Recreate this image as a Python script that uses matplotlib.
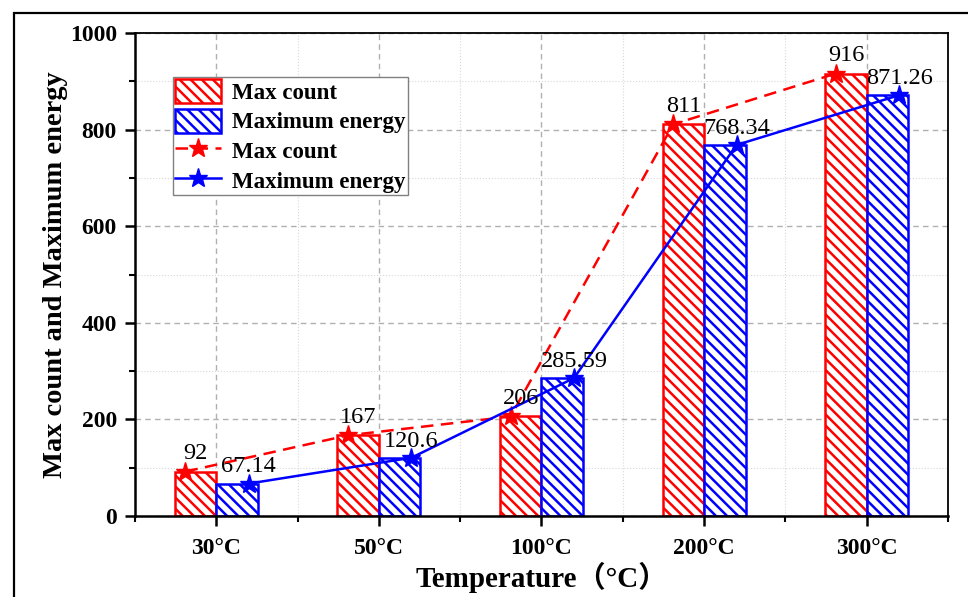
import numpy as np
import matplotlib
matplotlib.use('Agg')
import matplotlib.pyplot as plt
from matplotlib.patches import Rectangle
from matplotlib.ticker import MultipleLocator

plt.rcParams['font.family'] = ['Liberation Serif', 'Noto Sans CJK SC']
plt.rcParams['hatch.linewidth'] = 1.8

# data
temps = ['30°C', '50°C', '100°C', '200°C', '300°C']
max_count = [92, 167, 206, 811, 916]
max_energy = [67.14, 120.6, 285.59, 768.34, 871.26]
count_labels = ['92', '167', '206', '811', '916']
energy_labels = ['67.14', '120.6', '285.59', '768.34', '871.26']

w = 0.255  # bar width
x = np.arange(len(temps))

fig = plt.figure(figsize=(9.68, 5.97), dpi=100)
ax = fig.add_axes([0.1395, 0.1357, 0.8398, 0.809])

ax.set_axisbelow(True)
ax.grid(which='major', ls=(0, (4, 3)), color='#b0b0b0', lw=1)
ax.grid(which='minor', ls=':', color='#d8d8d8', lw=0.8)

b1 = ax.bar(x - w/2, max_count, w, facecolor='white', edgecolor='red',
            hatch='\\\\\\', lw=1.8, label='Max count')
b2 = ax.bar(x + w/2, max_energy, w, facecolor='white', edgecolor='blue',
            hatch='\\\\\\', lw=1.8, label='Maximum energy')

l1, = ax.plot(x - 0.19, max_count, c='red', ls=(0, (5, 3)), lw=1.8,
              marker='*', ms=14, label='Max count')
l2, = ax.plot(x + 0.2, max_energy, c='blue', ls='-', lw=1.8,
              marker='*', ms=14, label='Maximum energy')

for i in range(len(temps)):
    ax.annotate(count_labels[i], (x[i] - w/2, max_count[i]),
                xytext=(0, 9), textcoords='offset points',
                ha='center', va='baseline', fontsize=17.5)
    ax.annotate(energy_labels[i], (x[i] + 0.2, max_energy[i]),
                xytext=(0, 8), textcoords='offset points',
                ha='center', va='baseline', fontsize=17.5)

ax.set_xlim(-0.5, 4.5)
ax.set_ylim(0, 1000)
ax.set_xticks(x)
ax.set_xticklabels(temps, fontweight='bold', fontsize=17)
ax.xaxis.set_minor_locator(MultipleLocator(0.5))
ax.yaxis.set_major_locator(MultipleLocator(200))
ax.yaxis.set_minor_locator(MultipleLocator(100))
for lab in ax.get_yticklabels():
    lab.set_fontweight('bold')
    lab.set_fontsize(17)

ax.tick_params(which='major', direction='out', length=7, width=1.8, pad=6)
ax.tick_params(which='minor', direction='out', length=4, width=1.5)
ax.tick_params(axis='x', which='major', pad=9)

for side in ['left', 'bottom']:
    ax.spines[side].set_linewidth(1.8)
for side in ['top', 'right']:
    ax.spines[side].set_linewidth(1.3)

ax.set_xlabel('Temperature（°C）', fontsize=21, fontweight='bold', labelpad=2)
ax.set_ylabel('Max count and Maximum energy', fontsize=20.5,
              fontweight='bold', labelpad=1)

ax.legend([b1, b2, l1, l2],
          ['Max count', 'Maximum energy', 'Max count', 'Maximum energy'],
          loc='upper left', bbox_to_anchor=(0.047, 0.909), borderaxespad=0,
          fancybox=False, edgecolor='#808080', framealpha=1,
          prop={'weight': 'bold', 'size': 16.5}, handlelength=2.0,
          handleheight=1.25, handletextpad=0.5, labelspacing=0.22,
          borderpad=0.08)

# outer frame of the figure
fig.add_artist(Rectangle((14/968, -0.1), 1.2, 1.1 - 13/597,
                         transform=fig.transFigure, fill=False,
                         ec='black', lw=1.6, clip_on=False))

plt.savefig('out.png', dpi=100)
